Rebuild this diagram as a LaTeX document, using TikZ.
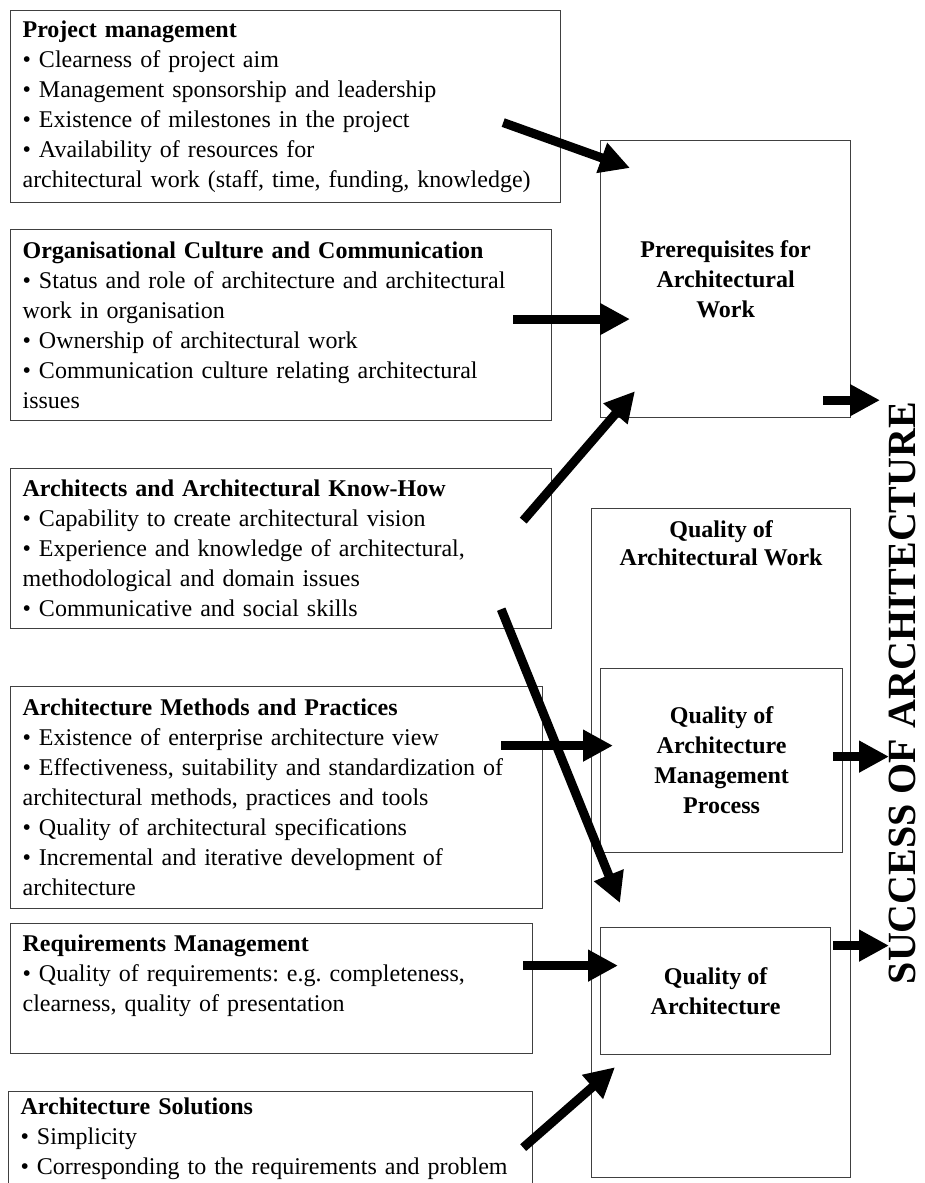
\documentclass[tikz,border=0pt]{standalone}
\usepackage{fontspec}
\setmainfont{Liberation Serif}
\frenchspacing
\usetikzlibrary{arrows.meta,positioning,calc}
\tikzset{
  factor/.style  = {draw=black!75, line width=1.2pt, rectangle, anchor=north west,
                    align=left, inner xsep=12pt, inner ysep=2pt,
                    font=\fontsize{24}{30}\selectfont},
  quality/.style = {draw=black!75, line width=1.2pt, rectangle, anchor=north west,
                    align=center, inner sep=2pt,
                    font=\fontsize{24}{30}\bfseries\selectfont},
  push/.style    = {-{Triangle[length=30pt,width=30pt]}, line width=9pt}
}

\begin{document}
\begin{tikzpicture}[x=1pt,y=-1pt]
  \useasboundingbox (0,0) rectangle (924,1183);
  \clip (0,0) rectangle (924,1183);

  \node[factor, text width=526pt, minimum height=192pt] (pm) at (10,10)
    {\textbf{Project management}\\
     • Clearness of project aim\\
     • Management sponsorship and leadership\\
     • Existence of milestones in the project\\
     • Availability of resources for\\
     architectural work (staff, time, funding, knowledge)};
  \node[factor, text width=517pt, minimum height=191pt] (org) at (10,229)
    {\textbf{Organisational Culture and Communication}\\
     • Status and role of architecture and architectural\\
     work in organisation\\
     • Ownership of architectural work\\
     • Communication culture relating architectural\\
     issues};
  \node[factor, text width=517pt, minimum height=160pt] (know) at (10,468)
    {\textbf{Architects and Architectural Know-How}\\
     • Capability to create architectural vision\\
     • Experience and knowledge of architectural,\\
     methodological and domain issues\\
     • Communicative and social skills};
  \node[factor, text width=508pt, minimum height=222pt] (meth) at (10,686)
    {\textbf{Architecture Methods and Practices}\\
     • Existence of enterprise architecture view\\
     • Effectiveness, suitability and standardization of\\
     architectural methods, practices and tools\\
     • Quality of architectural specifications\\
     • Incremental and iterative development of\\
     architecture};
  \node[factor, text width=498pt, minimum height=130pt] (req) at (10,923)
    {\textbf{Requirements Management}\\
     • Quality of requirements: e.g. completeness,\\
     clearness, quality of presentation\\ ~};
  \node[factor, text width=500pt, minimum height=95pt, inner ysep=5pt] (sol) at (8,1091)
    {\textbf{Architecture Solutions}\\
     • Simplicity\\
     • Corresponding to the requirements and problem};

  \node[quality, minimum width=250pt, minimum height=277pt] (prereq) at (600,140)
    {Prerequisites for\\Architectural\\Work};
  \node[quality, minimum width=259pt, minimum height=669pt,
        label={[anchor=north, align=center, inner sep=0pt, yshift=-12pt,
                font=\fontsize{24}{28}\bfseries\selectfont]north:{Quality of\\Architectural Work}}]
    (qwork) at (591,508) {};
  \node[quality, minimum width=242pt, minimum height=184pt] (qamp) at (600,668)
    {Quality of\\Architecture\\Management\\Process};
  \node[quality, minimum width=230pt, minimum height=127pt] (qarch) at (600,927)
    {Quality of\\Architecture};

  \node[anchor=north, rotate=90, inner sep=0pt,
        font=\fontsize{40}{40}\bfseries\selectfont] (success) at (889,693)
    {SUCCESS OF ARCHITECTURE};

  \draw[push] ($(pm.east)+(-58,16)$) -- ($(prereq.north west)+(30,28)$);
  \draw[push] ($(org.east)+(-39,-6)$) -- ($(prereq.west)+(30,40)$);
  \draw[push] ($(know.east)+(-29,-28)$) -- ($(prereq.south west)+(35,-27)$);
  \coordinate (p1) at ($(prereq.south east)+(-28,-18)$);
  \draw[push] (p1) -- ($(p1 -| success.north)+(-9,0)$);
  \draw[push] ($(know.south east)+(-51,-20)$) -- ($(qarch.north west)+(20,-24)$);
  \draw[push] ($(meth.east)+(-42,-52)$) -- ($(qamp.west)+(13,-15)$);
  \coordinate (m1) at ($(qamp.east)+(-10,-4)$);
  \draw[push] (m1) -- (m1 -| success.north);
  \draw[push] ($(req.east)+(-10,-23)$) -- ($(qarch.west)+(18,-25.5)$);
  \coordinate (a1) at ($(qarch.east)+(2,-45.5)$);
  \draw[push] (a1) -- (a1 -| success.north);
  \draw[push] ($(sol.east)+(-10,8.5)$) -- ($(qarch.south west)+(15,12)$);
\end{tikzpicture}
\end{document}
